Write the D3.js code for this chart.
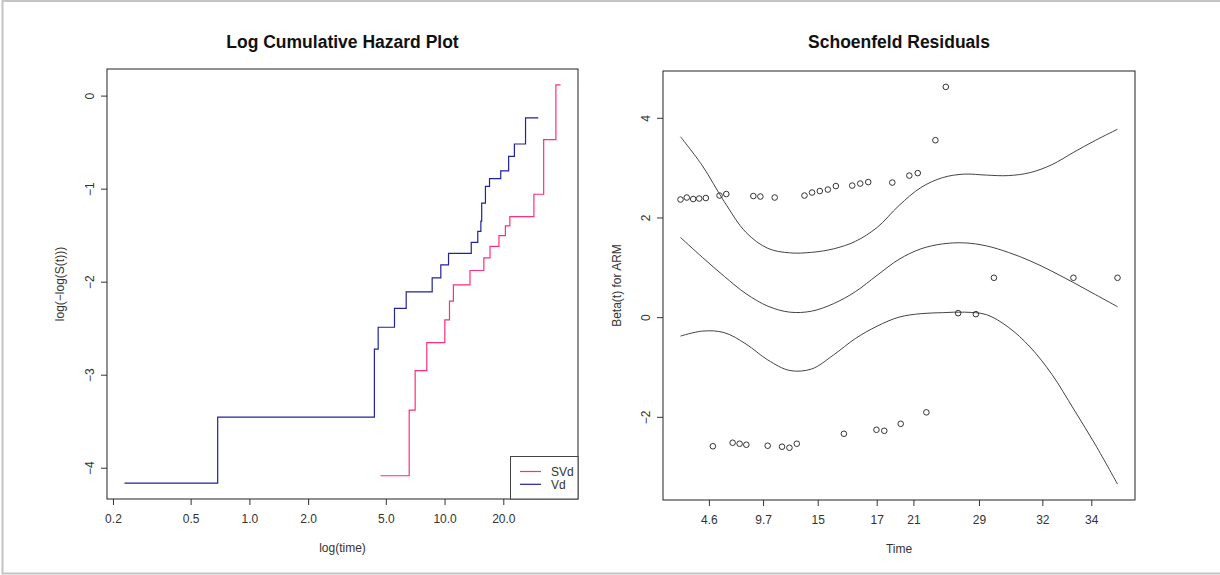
<!DOCTYPE html>
<html>
<head>
<meta charset="utf-8">
<script src="https://cdn.jsdelivr.net/npm/d3@7"></script>
<style>
  body { margin: 0; background: #fff; }
  svg { display: block; font-family: "Liberation Sans", Arial, sans-serif; }
  .tick-label { font-size: 12px; fill: #333; }
  .axis-title { font-size: 12px; fill: #333; }
  .plot-title { font-size: 17.5px; font-weight: bold; fill: #111; }
</style>
</head>
<body>
<script>
// Log cumulative hazard (step curves), time in original units
var vdTime = [0.229, 0.688, 4.37, 4.57, 5.54, 6.36, 8.64, 9.57, 10.48, 13.7, 14.8, 15.35, 15.5, 16.2, 17.0, 19.4, 21.3, 22.8, 26.0, 30.2];
var vdHaz = [-4.165, -3.455, -2.724, -2.49, -2.287, -2.11, -1.96, -1.82, -1.695, -1.577, -1.46, -1.35, -1.155, -0.975, -0.892, -0.81, -0.652, -0.52, -0.24, -0.24];
var svdTime = [4.70, 6.59, 7.07, 8.11, 10.03, 10.6, 11.1, 13.5, 15.9, 17.1, 19.0, 20.5, 21.6, 28.7, 32.2, 37.2, 39.3];
var svdHaz = [-4.086, -3.38, -2.957, -2.656, -2.41, -2.21, -2.035, -1.88, -1.745, -1.62, -1.505, -1.40, -1.30, -1.06, -0.473, 0.115, 0.115];
var hazXTicks = [0.2, 0.5, 1, 2, 5, 10, 20];
var hazXLabels = ["0.2", "0.5", "1.0", "2.0", "5.0", "10.0", "20.0"];
var hazYTicks = [0, -1, -2, -3, -4];
var legendNames = ["SVd", "Vd"];
var legendColors = ["#ff2d7e", "#22229a"];

// Schoenfeld residuals, x on transformed (KM) time scale 0..1
var residT = [0.000, 0.0144, 0.0291, 0.0429, 0.0580, 0.0741, 0.0894, 0.1048, 0.1193, 0.1353, 0.1507, 0.1667, 0.1828, 0.1995, 0.2156, 0.2323, 0.2493, 0.2661, 0.2837, 0.3011, 0.3188, 0.3372, 0.3555, 0.3739, 0.3929, 0.4112, 0.4296, 0.4484, 0.4663, 0.4846, 0.5039, 0.5236, 0.5429, 0.5626, 0.5833, 0.6071, 0.6353, 0.6759, 0.7172, 0.8991, 1.000];
var residBeta = [2.36, 2.40, 2.37, 2.38, 2.39, -2.59, 2.44, 2.47, -2.52, -2.54, -2.56, 2.43, 2.42, -2.58, 2.40, -2.60, -2.62, -2.54, 2.44, 2.50, 2.53, 2.56, 2.63, -2.34, 2.64, 2.68, 2.71, -2.26, -2.28, 2.70, -2.14, 2.84, 2.89, -1.91, 3.55, 4.62, 0.08, 0.06, 0.79, 0.79, 0.79];
var smoothT = [0, 0.05, 0.1, 0.15, 0.2, 0.25, 0.3, 0.35, 0.4, 0.45, 0.5, 0.55, 0.6, 0.65, 0.7, 0.75, 0.8, 0.85, 0.9, 0.95, 1.0];
var smoothFit = [1.60, 1.20, 0.82, 0.47, 0.22, 0.10, 0.12, 0.27, 0.51, 0.84, 1.16, 1.37, 1.47, 1.49, 1.43, 1.30, 1.13, 0.92, 0.69, 0.45, 0.21];
var smoothUpper = [3.62, 3.04, 2.32, 1.70, 1.38, 1.29, 1.30, 1.37, 1.52, 1.80, 2.24, 2.60, 2.80, 2.87, 2.85, 2.84, 2.90, 3.06, 3.31, 3.55, 3.77];
var smoothLower = [-0.38, -0.28, -0.31, -0.54, -0.86, -1.07, -1.04, -0.76, -0.43, -0.18, 0.00, 0.07, 0.09, 0.10, 0.05, -0.20, -0.60, -1.15, -1.85, -2.57, -3.35];
var timeTickPos = [0.065, 0.189, 0.314, 0.449, 0.533, 0.683, 0.828, 0.940];
var timeTickLabels = ["4.6", "9.7", "15", "17", "21", "29", "32", "34"];
var betaTicks = [-2, 0, 2, 4];

var svgWidth = 1220;
var svgHeight = 575;

var svg = d3.select("body")
  .append("svg")
  .attr("width", svgWidth)
  .attr("height", svgHeight);

// outer frame
svg.append("rect")
  .attr("x", 2.5).attr("y", 1).attr("width", 1230).attr("height", 572.5)
  .attr("fill", "none").attr("stroke", "#c4c4c4").attr("stroke-width", 2);

function fmtMinus(v) { return v < 0 ? "\u2212" + Math.abs(v) : String(v); }

// R-style 4% extension of a range
function extend(lo, hi) {
  var pad = (hi - lo) * 0.04;
  return [lo - pad, hi + pad];
}

// ---------------- Left: Log Cumulative Hazard Plot ----------------
var left = { x0: 107, x1: 578, y0: 69, y1: 499 };

var allTimes = vdTime.concat(svdTime);
var lnExt = extend(Math.log(d3.min(allTimes)), Math.log(d3.max(allTimes)));
var xHaz = d3.scaleLog()
  .domain([Math.exp(lnExt[0]), Math.exp(lnExt[1])])
  .range([left.x0, left.x1]);

var allHaz = vdHaz.concat(svdHaz);
var yHaz = d3.scaleLinear()
  .domain(extend(d3.min(allHaz), d3.max(allHaz)))
  .range([left.y1, left.y0]);

var hazLine = d3.line()
  .x(d => xHaz(d[0]))
  .y(d => yHaz(d[1]))
  .curve(d3.curveStepAfter);

var gLeft = svg.append("g");

gLeft.append("path")
  .datum(d3.zip(svdTime, svdHaz))
  .attr("d", hazLine)
  .attr("fill", "none")
  .attr("stroke", legendColors[0])
  .attr("stroke-width", 1.2);

gLeft.append("path")
  .datum(d3.zip(vdTime, vdHaz))
  .attr("d", hazLine)
  .attr("fill", "none")
  .attr("stroke", legendColors[1])
  .attr("stroke-width", 1.2);

// x axis
var xAxisHaz = d3.axisBottom(xHaz)
  .tickValues(hazXTicks)
  .tickFormat((d, i) => hazXLabels[i])
  .tickSize(6)
  .tickPadding(9);
var gx = gLeft.append("g")
  .attr("transform", `translate(0, ${left.y1})`)
  .call(xAxisHaz);
gx.select(".domain").remove();
gx.selectAll("line").attr("stroke", "#333");
gx.selectAll("text").attr("class", "tick-label").attr("font-size", null).attr("font-family", null);

// y axis
var yAxisHaz = d3.axisLeft(yHaz)
  .tickValues(hazYTicks)
  .tickFormat(fmtMinus)
  .tickSize(6);
var gy = gLeft.append("g")
  .attr("transform", `translate(${left.x0}, 0)`)
  .call(yAxisHaz);
gy.select(".domain").remove();
gy.selectAll("line").attr("stroke", "#333");
gy.selectAll("text")
  .attr("class", "tick-label").attr("font-size", null).attr("font-family", null)
  .attr("x", null).attr("dy", null)
  .attr("text-anchor", "middle")
  .attr("transform", "translate(-17, 0) rotate(-90)")
  .attr("y", 4);

// box
gLeft.append("rect")
  .attr("x", left.x0).attr("y", left.y0)
  .attr("width", left.x1 - left.x0).attr("height", left.y1 - left.y0)
  .attr("fill", "none").attr("stroke", "#222");

// legend, bottom right corner of the plot
var leg = gLeft.append("g");
leg.append("rect")
  .attr("x", 510.5).attr("y", 456.5).attr("width", left.x1 - 510.5).attr("height", left.y1 - 456.5)
  .attr("fill", "#fff").attr("stroke", "#444");
legendNames.forEach(function(name, i) {
  var yy = 471.5 + i * 12.8;
  leg.append("line")
    .attr("x1", 520).attr("x2", 541).attr("y1", yy).attr("y2", yy)
    .attr("stroke", legendColors[i]).attr("stroke-width", 1.2);
  leg.append("text")
    .attr("class", "tick-label")
    .attr("x", 551).attr("y", yy + 4.5)
    .text(name);
});

gLeft.append("text")
  .attr("class", "plot-title")
  .attr("x", (left.x0 + left.x1) / 2).attr("y", 48)
  .attr("text-anchor", "middle")
  .text("Log Cumulative Hazard Plot");

gLeft.append("text")
  .attr("class", "axis-title")
  .attr("x", (left.x0 + left.x1) / 2).attr("y", 552)
  .attr("text-anchor", "middle")
  .text("log(time)");

gLeft.append("text")
  .attr("class", "axis-title")
  .attr("transform", `translate(64, ${(left.y0 + left.y1) / 2}) rotate(-90)`)
  .attr("text-anchor", "middle")
  .text("log(\u2212log(S(t)))");

// ---------------- Right: Schoenfeld Residuals ----------------
var right = { x0: 663, x1: 1135, y0: 71, y1: 500 };

var xRes = d3.scaleLinear()
  .domain(extend(d3.min(residT), d3.max(residT)))
  .range([right.x0, right.x1]);

var yRes = d3.scaleLinear()
  .domain(extend(d3.min(residBeta.concat(smoothLower)), d3.max(residBeta.concat(smoothUpper))))
  .range([right.y1, right.y0]);

var gRight = svg.append("g");

var smoothLine = d3.line()
  .x(d => xRes(d[0]))
  .y(d => yRes(d[1]))
  .curve(d3.curveCatmullRom);

[smoothUpper, smoothFit, smoothLower].forEach(function(series) {
  gRight.append("path")
    .datum(d3.zip(smoothT, series))
    .attr("d", smoothLine)
    .attr("fill", "none")
    .attr("stroke", "#444")
    .attr("stroke-width", 1);
});

gRight.selectAll(".pt")
  .data(d3.zip(residT, residBeta))
  .enter()
  .append("circle")
  .classed("pt", true)
  .attr("cx", d => xRes(d[0]))
  .attr("cy", d => yRes(d[1]))
  .attr("r", 2.8)
  .attr("fill", "none")
  .attr("stroke", "#333")
  .attr("stroke-width", 1);

var xAxisRes = d3.axisBottom(xRes)
  .tickValues(timeTickPos)
  .tickFormat((d, i) => timeTickLabels[i])
  .tickSize(6)
  .tickPadding(9);
var gx2 = gRight.append("g")
  .attr("transform", `translate(0, ${right.y1})`)
  .call(xAxisRes);
gx2.select(".domain").remove();
gx2.selectAll("line").attr("stroke", "#333");
gx2.selectAll("text").attr("class", "tick-label").attr("font-size", null).attr("font-family", null);

var yAxisRes = d3.axisLeft(yRes)
  .tickValues(betaTicks)
  .tickFormat(fmtMinus)
  .tickSize(6);
var gy2 = gRight.append("g")
  .attr("transform", `translate(${right.x0}, 0)`)
  .call(yAxisRes);
gy2.select(".domain").remove();
gy2.selectAll("line").attr("stroke", "#333");
gy2.selectAll("text")
  .attr("class", "tick-label").attr("font-size", null).attr("font-family", null)
  .attr("x", null).attr("dy", null)
  .attr("text-anchor", "middle")
  .attr("transform", "translate(-17, 0) rotate(-90)")
  .attr("y", 4);

gRight.append("rect")
  .attr("x", right.x0).attr("y", right.y0)
  .attr("width", right.x1 - right.x0).attr("height", right.y1 - right.y0)
  .attr("fill", "none").attr("stroke", "#222");

gRight.append("text")
  .attr("class", "plot-title")
  .attr("x", (right.x0 + right.x1) / 2).attr("y", 48)
  .attr("text-anchor", "middle")
  .text("Schoenfeld Residuals");

gRight.append("text")
  .attr("class", "axis-title")
  .attr("x", (right.x0 + right.x1) / 2).attr("y", 553)
  .attr("text-anchor", "middle")
  .text("Time");

gRight.append("text")
  .attr("class", "axis-title")
  .attr("transform", `translate(621, ${(right.y0 + right.y1) / 2}) rotate(-90)`)
  .attr("text-anchor", "middle")
  .text("Beta(t) for ARM");
</script>
</body>
</html>
